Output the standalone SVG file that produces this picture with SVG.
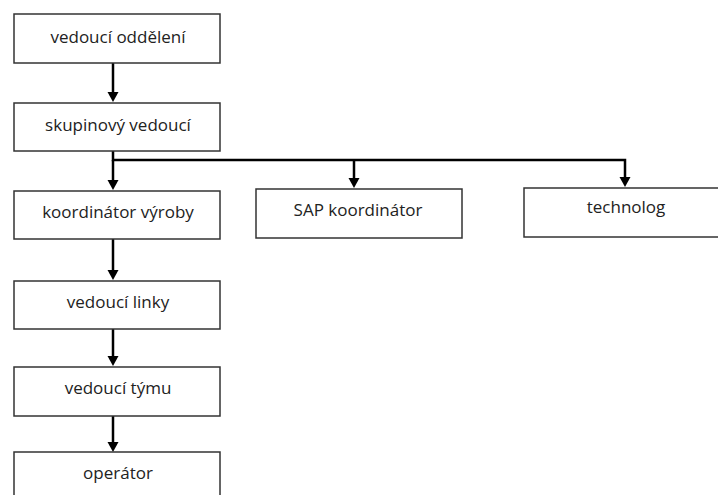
<svg xmlns="http://www.w3.org/2000/svg" width="718" height="495" viewBox="0 0 718 495">
  <defs>
    <style>
      .box { fill: #fff; stroke: #333; stroke-width: 1.5; }
      .lbl { font-family: "Open Sans", "Noto Sans", "Liberation Sans", sans-serif; font-size: 17px; fill: #222; text-anchor: middle; }
      .conn { fill: none; stroke: #000; stroke-width: 2.5; }
      .head { fill: #000; }
    </style>
  </defs>
  <rect width="718" height="495" fill="#fff"/>

  <g id="connectors">
    <path class="conn" d="M113,63 V94"/>
    <path class="head" d="M107.5,92 L118.5,92 L113,102 Z"/>
    <path class="conn" d="M113,151 V160 H625 V180"/>
    <path class="conn" d="M113,160 V182"/>
    <path class="head" d="M107.5,180 L118.5,180 L113,190 Z"/>
    <path class="conn" d="M354,160 V180"/>
    <path class="head" d="M348.5,178 L359.5,178 L354,188 Z"/>
    <path class="head" d="M619.5,177 L630.5,177 L625,187 Z"/>
    <path class="conn" d="M113,239 V272"/>
    <path class="head" d="M107.5,270 L118.5,270 L113,280 Z"/>
    <path class="conn" d="M113,329 V358"/>
    <path class="head" d="M107.5,356 L118.5,356 L113,366 Z"/>
    <path class="conn" d="M113,416 V444"/>
    <path class="head" d="M107.5,442 L118.5,442 L113,452 Z"/>
  </g>

  <g id="vedouci-oddeleni">
    <rect class="box" x="14" y="14" width="206" height="49"/>
    <text class="lbl" x="118" y="43">vedoucí oddělení</text>
  </g>
  <g id="skupinovy-vedouci">
    <rect class="box" x="14" y="103" width="206" height="48"/>
    <text class="lbl" x="118" y="131">skupinový vedoucí</text>
  </g>
  <g id="koordinator-vyroby">
    <rect class="box" x="14" y="191" width="206" height="48"/>
    <text class="lbl" x="118" y="218">koordinátor výroby</text>
  </g>
  <g id="sap-koordinator">
    <rect class="box" x="256" y="189" width="206" height="49"/>
    <text class="lbl" x="358" y="216">SAP koordinátor</text>
  </g>
  <g id="technolog">
    <rect class="box" x="524" y="188" width="206" height="49"/>
    <text class="lbl" x="626" y="213">technolog</text>
  </g>
  <g id="vedouci-linky">
    <rect class="box" x="14" y="281" width="206" height="48"/>
    <text class="lbl" x="118" y="308">vedoucí linky</text>
  </g>
  <g id="vedouci-tymu">
    <rect class="box" x="14" y="367" width="206" height="49"/>
    <text class="lbl" x="118" y="394">vedoucí týmu</text>
  </g>
  <g id="operator">
    <rect class="box" x="14" y="452" width="206" height="60"/>
    <text class="lbl" x="118" y="479">operátor</text>
  </g>
</svg>
